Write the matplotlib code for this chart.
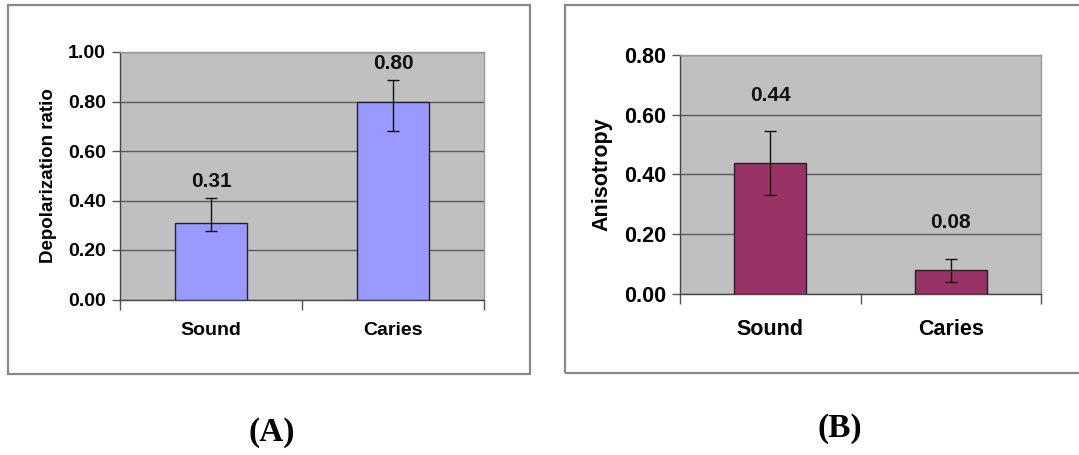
import numpy as np
import matplotlib.pyplot as plt
from matplotlib.patches import Rectangle

plt.rcParams['font.family'] = ['Liberation Sans', 'DejaVu Sans']

# dados dos dois paineis
categorias = ['Sound', 'Caries']

depol_valores = [0.31, 0.80]
depol_err_baixo = [0.035, 0.12]
depol_err_cima = [0.10, 0.087]

aniso_valores = [0.44, 0.08]
aniso_err_baixo = [0.11, 0.04]
aniso_err_cima = [0.105, 0.037]

W, H = 1079, 455
fig = plt.figure(figsize=(W / 100, H / 100), dpi=100)


def px_axes(x0, y0, x1, y1):
    # CRIA EIXO A PARTIR DE COORDENADAS EM PIXELS (ORIGEM NO TOPO)
    return fig.add_axes([x0 / W, 1 - y1 / H, (x1 - x0) / W, (y1 - y0) / H])


def moldura(x0, y0, x1, y1):
    fig.patches.append(Rectangle((x0 / W, 1 - y1 / H), (x1 - x0) / W, (y1 - y0) / H,
                                 transform=fig.transFigure, fill=False,
                                 edgecolor='#888888', linewidth=1.6))


def painel(ax, valores, eb, ec, cor, ymax, ylabel, deslocamento, fs_tick, fs_label, pad_cat):
    x = np.arange(len(categorias))
    ax.set_facecolor('#C0C0C0')
    ax.bar(x, valores, width=0.40, color=cor, edgecolor='#222222', linewidth=1.0, zorder=3)
    ax.errorbar(x, valores, yerr=[eb, ec], fmt='none', ecolor='#111111',
                elinewidth=1.0, capsize=4, capthick=1.0, zorder=4)
    for xi, v, e in zip(x, valores, ec):
        ax.annotate(f'{v:.2f}', (xi, v + e), xytext=(0, deslocamento),
                    textcoords='offset points', ha='center', va='center',
                    fontsize=15, fontweight='bold', color='#111111')
    ax.set_xlim(-0.5, len(categorias) - 0.5)
    ax.set_ylim(0, ymax)
    ticks = np.arange(0, ymax + 0.001, 0.2)
    ax.set_yticks(ticks)
    ax.set_yticklabels([f'{t:.2f}' for t in ticks], fontsize=fs_tick, fontweight='bold')
    ax.yaxis.grid(True, color='#5a5a5a', linewidth=1.0)
    ax.set_axisbelow(True)
    # MARCAS NAS DIVISOES ENTRE CATEGORIAS, ROTULOS NO CENTRO
    ax.set_xticks(np.arange(-0.5, len(categorias), 1.0))
    ax.set_xticklabels([])
    ax.set_xticks(x, minor=True)
    ax.set_xticklabels(categorias, minor=True, fontsize=fs_tick, fontweight='bold')
    ax.tick_params(axis='x', which='minor', length=0, pad=pad_cat)
    ax.tick_params(axis='x', which='major', length=7, color='#555555', width=1.0)
    ax.tick_params(axis='y', length=6, color='#555555', width=1.0, pad=4)
    ax.set_ylabel(ylabel, fontsize=fs_label, fontweight='bold', labelpad=8)
    for lado in ['left', 'bottom']:
        ax.spines[lado].set_color('#444444')
        ax.spines[lado].set_linewidth(1.0)
    for lado in ['top', 'right']:
        ax.spines[lado].set_color('#999999')
        ax.spines[lado].set_linewidth(1.0)


# PAINEL A
moldura(8, 5, 530, 374)
axA = px_axes(120, 52, 484, 299.5)
painel(axA, depol_valores, depol_err_baixo, depol_err_cima, '#9999FF', 1.0,
       'Depolarization ratio', 12, 14, 13.5, 16)

# PAINEL B
moldura(565, 5, 1085, 373)
axB = px_axes(680, 55, 1041, 294)
painel(axB, aniso_valores, aniso_err_baixo, aniso_err_cima, '#993366', 0.8,
       'Anisotropy', 26, 15.5, 15.5, 18)

# LEGENDAS DOS PAINEIS
fig.text(272 / W, 1 - 433 / H, '(A)', ha='center', va='center',
         fontsize=24, fontweight='bold', family='Liberation Serif')
fig.text(840 / W, 1 - 428 / H, '(B)', ha='center', va='center',
         fontsize=24, fontweight='bold', family='Liberation Serif')

fig.savefig('out.png', dpi=100)
